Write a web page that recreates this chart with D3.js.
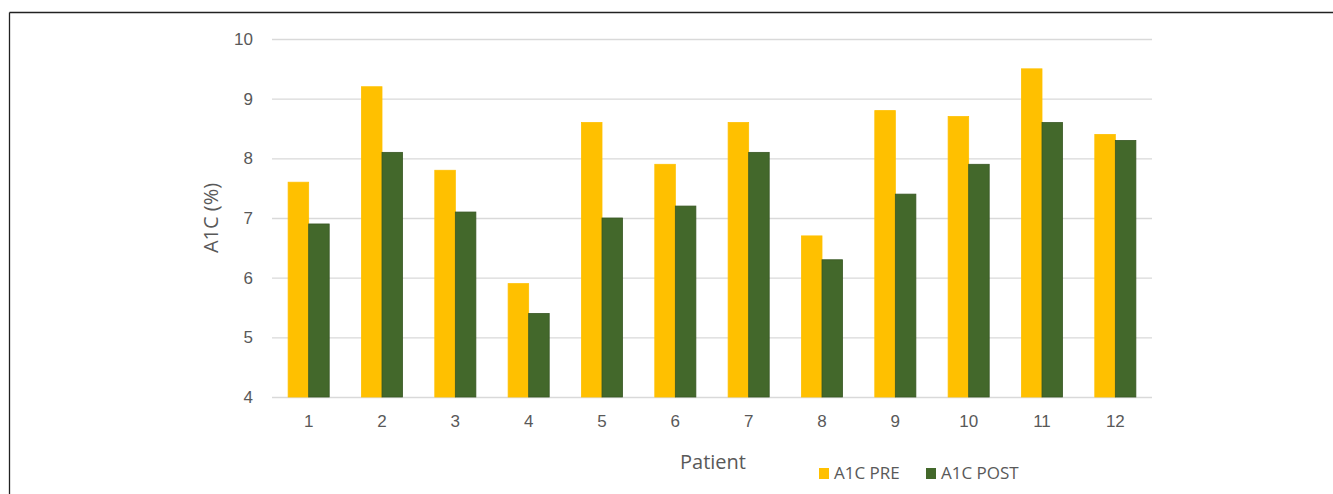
<!DOCTYPE html>
<html>
<head>
<meta charset="utf-8">
<script src="https://cdn.jsdelivr.net/npm/d3@7"></script>
<style>
  html, body { margin: 0; padding: 0; background: #fff; }
  svg { display: block; font-family: "Open Sans", "Noto Sans", sans-serif; }
</style>
</head>
<body>
<svg id="chart" width="1333" height="494"></svg>
<script>
// A1C before and after, per patient
const patients = ["1", "2", "3", "4", "5", "6", "7", "8", "9", "10", "11", "12"];
const seriesNames = ["A1C PRE", "A1C POST"];
const a1cPre  = [7.6, 9.2, 7.8, 5.9, 8.6, 7.9, 8.6, 6.7, 8.8, 8.7, 9.5, 8.4];
const a1cPost = [6.9, 8.1, 7.1, 5.4, 7.0, 7.2, 8.1, 6.3, 7.4, 7.9, 8.6, 8.3];
const yTicks  = [4, 5, 6, 7, 8, 9, 10];

const colors = { "A1C PRE": "#FFC000", "A1C POST": "#43682B" };
const strokes = { "A1C PRE": "#FFC000", "A1C POST": "#385723" };

const svg = d3.select("#chart");

// frame lines (top and left)
svg.append("line").attr("x1", 9.5).attr("x2", 1333).attr("y1", 12.5).attr("y2", 12.5)
  .attr("stroke", "#222").attr("stroke-width", 1.3);
svg.append("line").attr("x1", 9.5).attr("x2", 9.5).attr("y1", 12.5).attr("y2", 494)
  .attr("stroke", "#222").attr("stroke-width", 1.3);

const plot = { left: 272, right: 1152, top: 39, bottom: 397 };

const x = d3.scaleBand().domain(patients).range([plot.left, plot.right]).paddingInner(0.44).paddingOuter(0.22);
const xs = d3.scaleBand().domain(seriesNames).range([0, x.bandwidth()]);
const y = d3.scaleLinear().domain([4, 10]).range([plot.bottom, plot.top]);

// gridlines
const yAxis = d3.axisLeft(y).tickValues(yTicks).tickSize(-(plot.right - plot.left)).tickPadding(19).tickFormat(d3.format("d"));
const gy = svg.append("g").attr("transform", `translate(${plot.left},0)`).call(yAxis);
gy.select(".domain").remove();
gy.selectAll(".tick line").attr("stroke", "#d9d9d9").attr("stroke-width", 1.3);
gy.selectAll(".tick text").attr("fill", "#595959").style("font-size", "17px");

// bars
const rows = patients.map((p, i) => ({ p, values: [
  { key: "A1C PRE", v: a1cPre[i] },
  { key: "A1C POST", v: a1cPost[i] }
]}));

const groups = svg.append("g").selectAll("g").data(rows).join("g")
  .attr("transform", d => `translate(${x(d.p)},0)`);
groups.selectAll("rect").data(d => d.values).join("rect")
  .attr("x", d => xs(d.key))
  .attr("width", xs.bandwidth())
  .attr("y", d => y(d.v))
  .attr("height", d => y(4) - y(d.v))
  .attr("fill", d => colors[d.key])
  .attr("stroke", d => strokes[d.key])
  .attr("stroke-width", 0.8);

// x axis labels
const xAxis = d3.axisBottom(x).tickSize(0).tickPadding(18);
const gx = svg.append("g").attr("transform", `translate(0,${plot.bottom})`).call(xAxis);
gx.select(".domain").remove();
gx.selectAll(".tick text").attr("fill", "#595959").style("font-size", "17px");

// axis titles
svg.append("text").attr("x", 713).attr("y", 469).attr("text-anchor", "middle")
  .attr("fill", "#595959").style("font-size", "20px").text("Patient");
svg.append("text").attr("transform", "translate(218,218) rotate(-90)").attr("text-anchor", "middle")
  .attr("fill", "#595959").style("font-size", "20px").text("A1C (%)");

// legend
const legendX = [819, 926];
const lg = svg.append("g").selectAll("g").data(seriesNames).join("g")
  .attr("transform", (d, i) => `translate(${legendX[i]},468)`);
lg.append("rect").attr("width", 10).attr("height", 11).attr("fill", d => colors[d]);
lg.append("text").attr("x", 15).attr("y", 11).attr("fill", "#595959").style("font-size", "17px").text(d => d);
</script>
</body>
</html>
